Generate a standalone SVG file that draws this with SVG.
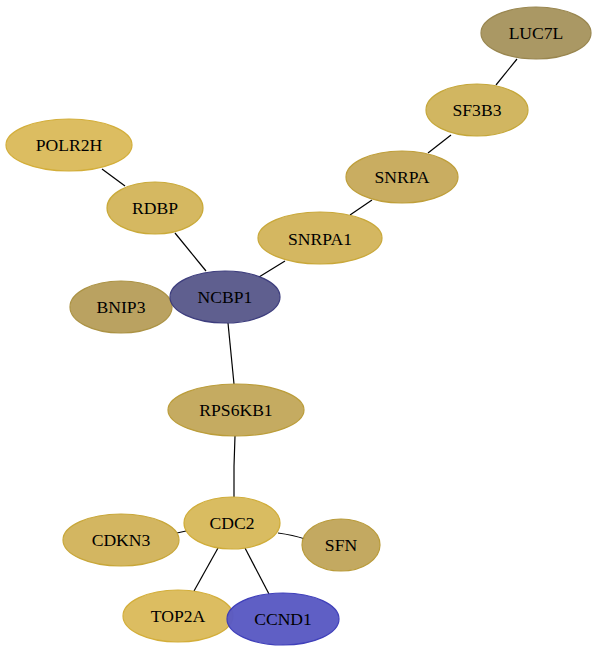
<svg xmlns="http://www.w3.org/2000/svg" width="597" height="653" viewBox="0 0 597 653">
<style>
.e{stroke:#000;stroke-width:1.2;fill:none}
.n ellipse{stroke-width:1.2;opacity:0.97}
.n text{font-family:"Liberation Serif",serif;font-size:17.6px;text-anchor:middle;fill:#000}
</style>
<rect width="597" height="653" fill="#fff"/>
<g id="edges">
<path class="e" d="M517,59 L496,85"/>
<path class="e" d="M451,135 L428,153"/>
<path class="e" d="M372,200 L350,215"/>
<path class="e" d="M285,261 L259,277"/>
<path class="e" d="M102,169 L125,186"/>
<path class="e" d="M175,233 L206,271"/>
<path class="e" d="M228,323 L234,384"/>
<path class="e" d="M235,436 Q233.5,466 234,497"/>
<path class="e" d="M186,531 L177,533"/>
<path class="e" d="M278,533 Q293,535 305,539"/>
<path class="e" d="M218,548 L194,591"/>
<path class="e" d="M245,548 L269,594"/>
</g>
<g id="LUC7L" class="n"><ellipse cx="536" cy="33" rx="55" ry="26" fill="#a8955f" stroke="#96834a"/><text x="536" y="39">LUC7L</text></g>
<g id="SF3B3" class="n"><ellipse cx="477" cy="110" rx="51" ry="26" fill="#d0b45c" stroke="#c4a534"/><text x="477" y="116">SF3B3</text></g>
<g id="POLR2H" class="n"><ellipse cx="69" cy="145" rx="63" ry="26" fill="#dbbb5c" stroke="#d2ac34"/><text x="69" y="151">POLR2H</text></g>
<g id="SNRPA" class="n"><ellipse cx="402" cy="177" rx="56" ry="26" fill="#c8ab5c" stroke="#bd9c34"/><text x="402" y="183">SNRPA</text></g>
<g id="RDBP" class="n"><ellipse cx="155" cy="208" rx="48" ry="26" fill="#d4b65c" stroke="#c9a834"/><text x="155" y="214">RDBP</text></g>
<g id="SNRPA1" class="n"><ellipse cx="320" cy="238" rx="62" ry="26" fill="#d3b55c" stroke="#c8a634"/><text x="320" y="244.5">SNRPA1</text></g>
<g id="BNIP3" class="n"><ellipse cx="121" cy="307" rx="51" ry="26" fill="#b8a05c" stroke="#aa9040"/><text x="121" y="313">BNIP3</text></g>
<g id="NCBP1" class="n"><ellipse cx="225" cy="297" rx="55" ry="26" fill="#5a5a8c" stroke="#38387a"/><text x="225" y="303">NCBP1</text></g>
<g id="RPS6KB1" class="n"><ellipse cx="236" cy="410" rx="68" ry="26" fill="#c4a95c" stroke="#b99a34"/><text x="236" y="416">RPS6KB1</text></g>
<g id="CDKN3" class="n"><ellipse cx="121" cy="540" rx="58" ry="26" fill="#d2b45c" stroke="#c7a534"/><text x="121" y="546">CDKN3</text></g>
<g id="CDC2" class="n"><ellipse cx="232" cy="523" rx="48" ry="26" fill="#d8ba5c" stroke="#cfab34"/><text x="232" y="529">CDC2</text></g>
<g id="SFN" class="n"><ellipse cx="341" cy="545" rx="39" ry="26" fill="#c2a75c" stroke="#b79834"/><text x="341" y="551">SFN</text></g>
<g id="TOP2A" class="n"><ellipse cx="178" cy="616" rx="55" ry="26" fill="#dbbb5c" stroke="#d2ac34"/><text x="178" y="622">TOP2A</text></g>
<g id="CCND1" class="n"><ellipse cx="283" cy="619" rx="56" ry="26" fill="#5a5ac4" stroke="#3a3ab8"/><text x="283" y="625">CCND1</text></g>
</svg>
